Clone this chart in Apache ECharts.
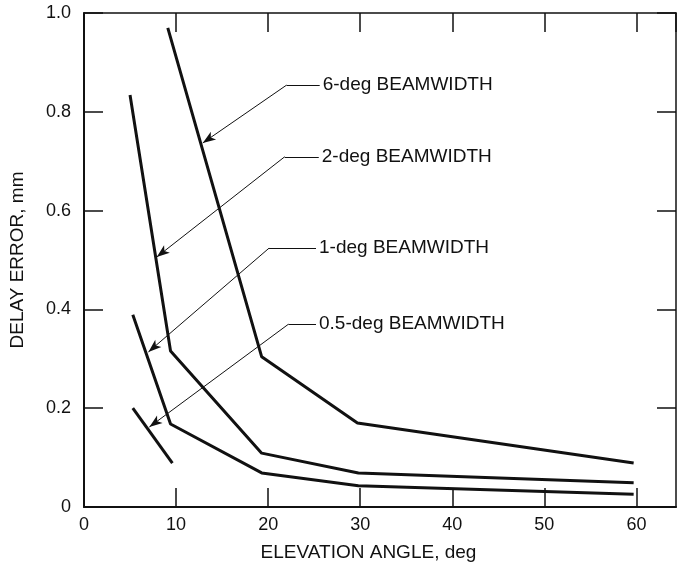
<!DOCTYPE html>
<html>
<head>
<meta charset="utf-8">
<script src="https://cdn.jsdelivr.net/npm/echarts@6/dist/echarts.min.js"></script>
<style>
html,body{margin:0;padding:0;background:#fff;}
#chart{width:678px;height:567px;}
</style>
</head>
<body>
<div id="chart"></div>
<script>
// ---- data ----
const curveNames = ['6-deg BEAMWIDTH', '2-deg BEAMWIDTH', '1-deg BEAMWIDTH', '0.5-deg BEAMWIDTH'];
const beam6X = [9.1, 19.3, 29.7, 59.7];
const beam6Y = [0.970, 0.304, 0.170, 0.089];
const beam2X = [5.0, 9.4, 19.3, 29.8, 59.7];
const beam2Y = [0.834, 0.316, 0.109, 0.069, 0.049];
const beam1X = [5.3, 9.4, 19.3, 29.8, 59.7];
const beam1Y = [0.389, 0.168, 0.069, 0.043, 0.026];
const beam05X = [5.3, 9.6];
const beam05Y = [0.200, 0.089];

// leader lines of the annotations (data coordinates)
const leaderElbowX = [22.0, 21.8, 20.1, 22.2];
const leaderElbowY = [0.854, 0.709, 0.524, 0.370];
const leaderEndX = [25.6, 25.5, 25.2, 25.2];
const leaderTipX = [12.9, 7.9, 7.0, 7.1];
const leaderTipY = [0.737, 0.506, 0.314, 0.162];

const xTicks = [0, 10, 20, 30, 40, 50, 60];
const yTicks = [0, 0.2, 0.4, 0.6, 0.8, 1.0];
const xTitle = 'ELEVATION ANGLE, deg';
const yTitle = 'DELAY ERROR, mm';

// ---- chart ----
const FONT = "'Liberation Sans', Arial, Helvetica, sans-serif";
const INK = '#111';
const X_MAX = 64.3;

const zip = (xs, ys) => xs.map((x, i) => [x, ys[i]]);
const curves = [zip(beam6X, beam6Y), zip(beam2X, beam2Y), zip(beam1X, beam1Y), zip(beam05X, beam05Y)];

const markData = [];
curveNames.forEach((name, i) => {
  markData.push([
    { coord: [leaderElbowX[i], leaderElbowY[i]], symbol: 'none' },
    { coord: [leaderEndX[i], leaderElbowY[i]], symbol: 'none',
      label: { show: true, position: 'end', formatter: name, distance: 3,
               color: INK, fontFamily: FONT, fontSize: 19 } }
  ]);
  markData.push([
    { coord: [leaderElbowX[i], leaderElbowY[i]], symbol: 'none' },
    { coord: [leaderTipX[i], leaderTipY[i]], symbol: 'arrow', symbolSize: [7, 13] }
  ]);
});

const baseAxis = {
  axisLine: { show: true, onZero: false, lineStyle: { color: INK, width: 2 } },
  axisTick: { show: true, inside: true, length: 19, lineStyle: { color: INK, width: 1.5 } },
  splitLine: { show: false }
};

const option = {
  backgroundColor: '#fff',
  animation: false,
  grid: { left: 82, right: 2, top: 13, bottom: 60, containLabel: false },
  xAxis: [
    Object.assign({}, baseAxis, {
      type: 'value', position: 'bottom', min: xTicks[0], max: X_MAX, interval: 10,
      axisLabel: { show: true, margin: 9, color: INK, fontFamily: FONT, fontSize: 18,
                   showMaxLabel: false,
                   formatter: v => (xTicks.indexOf(v) >= 0 ? String(v) : '') },
      name: xTitle, nameLocation: 'middle', nameGap: 36,
      nameTextStyle: { color: INK, fontFamily: FONT, fontSize: 19, padding: [0, 23, 0, 0] }
    }),
    Object.assign({}, baseAxis, {
      type: 'value', position: 'top', min: xTicks[0], max: X_MAX, interval: 10,
      axisLine: { show: true, onZero: false, lineStyle: { color: INK, width: 1.5 } },
      axisLabel: { show: false }
    })
  ],
  yAxis: [
    Object.assign({}, baseAxis, {
      type: 'value', position: 'left', min: yTicks[0], max: yTicks[yTicks.length - 1], interval: 0.2,
      axisLabel: { show: true, margin: 13, color: INK, fontFamily: FONT, fontSize: 18,
                   formatter: v => (v === 0 ? '0' : v.toFixed(1)) },
      name: yTitle, nameLocation: 'middle', nameGap: 57,
      nameTextStyle: { color: INK, fontFamily: FONT, fontSize: 19 }
    }),
    Object.assign({}, baseAxis, {
      type: 'value', position: 'right', min: yTicks[0], max: yTicks[yTicks.length - 1], interval: 0.2,
      axisLine: { show: true, onZero: false, lineStyle: { color: INK, width: 1.5 } },
      axisLabel: { show: false }
    })
  ],
  series: curves.map((pts, i) => ({
    name: curveNames[i], type: 'line', data: pts, xAxisIndex: 0, yAxisIndex: 0,
    showSymbol: false, symbol: 'none', silent: true,
    lineStyle: { color: INK, width: 3 }
  })).concat([{
    name: 'annotations', type: 'line', data: [], xAxisIndex: 0, yAxisIndex: 0, silent: true,
    markLine: {
      silent: true, animation: false,
      lineStyle: { color: INK, width: 1, type: 'solid' },
      itemStyle: { color: INK },
      label: { show: false },
      emphasis: { disabled: true },
      data: markData
    }
  }])
};

const chart = echarts.init(document.getElementById('chart'), null, { renderer: 'canvas' });
chart.setOption(option);
</script>
</body>
</html>
